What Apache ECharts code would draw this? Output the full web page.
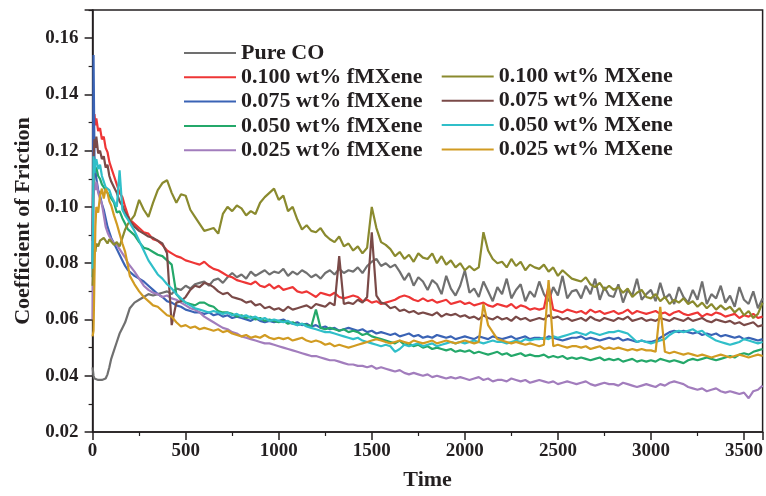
<!DOCTYPE html>
<html><head><meta charset="utf-8">
<script src="https://cdn.jsdelivr.net/npm/echarts@6/dist/echarts.min.js"></script>
<style>html,body{margin:0;padding:0;background:#fff}#c{width:766px;height:496px}</style>
</head><body><div id="c"></div>
<script>
// ---------- DATA ----------
const time = [0,5,10,15,20,30,40,50,60,70,80,90,100,115,130,145,160,175,190,
200,225,250,275,300,325,350,375,400,425,450,475,500,525,550,575,600,625,650,675,700,725,750,775,
800,825,850,875,900,925,950,975,1000,1025,1050,1075,1100,1125,1150,1175,1200,1225,1250,1275,1300,1325,1350,1375,
1400,1425,1450,1475,1500,1525,1550,1575,1600,1625,1650,1675,1700,1725,1750,1775,1800,1825,1850,1875,1900,1925,1950,1975,
2000,2025,2050,2075,2100,2125,2150,2175,2200,2225,2250,2275,2300,2325,2350,2375,2400,2425,2450,2475,2500,2525,2550,2575,
2600,2625,2650,2675,2700,2725,2750,2775,2800,2825,2850,2875,2900,2925,2950,2975,3000,3025,3050,3075,3100,3125,3150,3175,
3200,3225,3250,3275,3300,3325,3350,3375,3400,3425,3450,3475,3500,3525,3550,3575,3600];

const pureCO = [.043,.040,.039,.0385,.039,.0385,.039,.0385,.038,.039,.0405,.043,.046,.049,.052,.055,.057,.059,.062,
.064,.066,.067,.068,.069,.0685,.069,.0695,
.070,.069,.071,.0705,.072,.071,.0725,.073,
.0735,.072,.074,.0745,.073,.075,.0765,.075,
.076,.0745,.077,.0755,.0765,.0775,.076,.077,
.0765,.078,.0755,.077,.076,.0775,.0765,.075,
.076,.0745,.0765,.0775,.076,.078,.0765,.0775,
.077,.0785,.0765,.079,.0805,.0815,.079,.080,
.0785,.0795,.077,.074,.0765,.072,.075,.0735,
.0705,.074,.0725,.069,.0755,.071,.0685,.072,
.0775,.0695,.071,.068,.0735,.070,.0665,.0715,
.069,.0745,.0675,.0705,.0725,.0665,.070,.068,
.0735,.069,.0665,.0715,.0685,.0755,.0675,.070,
.0705,.0675,.072,.069,.0745,.067,.0715,.0685,
.068,.0725,.066,.0705,.0685,.0745,.067,.069,
.0705,.0665,.073,.0675,.069,.0655,.0715,.068,
.066,.0705,.067,.0735,.0655,.069,.0675,.072,
.066,.0685,.0645,.0715,.067,.0655,.070,.064,
.0675];

const f100 = [.088,.126,.133,.129,.1315,.127,.128,.124,.125,.121,.1195,.116,.114,.111,.108,.105,.1035,.100,.097,
.0955,.094,.0925,.091,.0905,.0885,.088,.0865,
.0845,.0835,.0825,.082,.081,.0805,.080,.0795,
.0805,.079,.078,.0775,.0765,.0755,.075,.074,
.0735,.073,.0725,.0735,.072,.0715,.0725,.071,
.072,.0705,.071,.0715,.070,.0695,.070,.069,
.068,.0695,.069,.0685,.0695,.068,.0675,.068,
.0685,.068,.0665,.067,.066,.0665,.0655,.066,
.0665,.067,.068,.0685,.068,.067,.0665,.0675,
.0665,.067,.066,.0665,.067,.0655,.066,.0665,
.0655,.066,.065,.0655,.066,.065,.0645,.0655,
.065,.0645,.0655,.064,.065,.0645,.0635,.064,
.0635,.064,.072,.0635,.063,.0625,.0635,.063,
.0625,.063,.062,.0635,.0625,.063,.062,.0625,
.063,.062,.0625,.0635,.062,.063,.0625,.062,
.0625,.063,.062,.0625,.0615,.0625,.063,.062,
.0615,.062,.0625,.061,.062,.0615,.0625,.062,
.061,.0615,.062,.0605,.0615,.061,.062,.0605,
.061];

const f075 = [.080,.154,.118,.113,.110,.106,.104,.101,.099,.096,.093,.091,.089,.087,.085,.083,.081,.079,.0775,
.077,.0755,.0745,.0735,.072,.0705,.069,.068,
.0665,.066,.065,.0645,.0635,.063,.0625,.0625,
.062,.0625,.0615,.062,.061,.0615,.0605,.061,
.0605,.060,.0595,.0605,.0595,.059,.0595,.059,
.0595,.060,.059,.0585,.059,.058,.0585,.0575,
.058,.057,.0575,.0565,.057,.056,.0565,.057,
.0565,.056,.0565,.0555,.056,.055,.0555,.055,
.0545,.055,.054,.0545,.055,.054,.0545,.0535,
.054,.0535,.0545,.054,.0535,.054,.053,.0535,
.054,.0535,.053,.054,.0535,.053,.054,.0535,
.053,.0535,.054,.053,.0535,.054,.053,.0535,
.0535,.053,.054,.0535,.053,.0525,.053,.0535,
.0535,.054,.053,.0535,.053,.0525,.053,.0535,
.053,.0535,.0525,.053,.0525,.052,.0525,.052,
.052,.0525,.0535,.0545,.0555,.056,.0555,.056,
.0555,.055,.0555,.0545,.055,.0545,.055,.054,
.0545,.054,.0535,.054,.053,.0535,.053,.0525,
.053];

const f050 = [.075,.112,.116,.113,.114,.111,.110,.108,.107,.106,.105,.104,.103,.1015,.098,.0985,.096,.094,.092,
.092,.090,.0875,.0855,.085,.084,.083,.0825,
.081,.0795,.069,.067,.066,.0655,.065,.066,
.066,.065,.0645,.063,.0625,.0625,.062,.061,
.0615,.0605,.061,.060,.0605,.0595,.060,.0595,
.059,.0595,.0585,.059,.058,.0585,.058,.0575,
.0635,.057,.0565,.057,.0565,.056,.0565,.0555,
.056,.0555,.0545,.055,.054,.0535,.053,.0525,
.052,.0515,.0525,.051,.0515,.0505,.051,.050,
.0505,.0495,.050,.0495,.049,.0495,.0485,.049,
.0485,.049,.048,.0485,.048,.0475,.048,.0485,
.0475,.048,.047,.0475,.048,.047,.0475,.047,
.047,.0475,.0465,.047,.0465,.047,.046,.0465,
.046,.0465,.046,.0455,.046,.0465,.0455,.046,
.0455,.046,.045,.0455,.046,.045,.0455,.045,
.0455,.045,.046,.0455,.045,.0455,.045,.0445,
.0455,.046,.0455,.046,.0465,.046,.0455,.046,
.0465,.047,.0465,.0475,.048,.0475,.0485,.049,
.0495];

const f025 = [.060,.104,.108,.106,.109,.105,.103,.101,.097,.093,.091,.0895,.089,.087,.0865,.085,.0835,.082,.080,
.0795,.077,.0745,.072,.0705,.0695,.069,.068,
.0685,.0675,.067,.066,.065,.064,.0635,.0625,
.061,.060,.059,.058,.057,.0565,.0555,.055,
.054,.0535,.053,.0525,.052,.0515,.0515,.051,
.0505,.050,.0495,.049,.0485,.048,.0475,.047,
.047,.0465,.046,.0455,.0455,.045,.0445,.044,
.044,.0435,.0435,.043,.0435,.0425,.043,.0425,
.042,.0415,.042,.041,.0405,.041,.0405,.040,
.0405,.0395,.040,.0395,.039,.0395,.039,.0395,
.039,.0385,.039,.0395,.0385,.039,.038,.0385,
.0385,.038,.039,.0385,.038,.0385,.0375,.038,
.0385,.038,.0375,.038,.037,.0375,.038,.0375,
.037,.0375,.038,.037,.0365,.037,.0375,.037,
.037,.0365,.0375,.037,.0365,.036,.0365,.037,
.0365,.036,.037,.0365,.0375,.038,.0375,.037,
.036,.0355,.035,.0355,.0345,.035,.0355,.0345,
.034,.0345,.034,.0335,.034,.032,.0345,.035,
.0365];

const m100 = [.072,.080,.085,.084,.087,.086,.088,.0875,.089,.0885,.087,.0885,.088,.0865,.0875,.086,.089,.092,.094,
.0945,.097,.1025,.099,.0965,.1015,.106,.1085,
.1095,.105,.1015,.1045,.104,.099,.0965,.094,
.0915,.092,.0925,.0905,.0975,.100,.0985,.1005,
.0995,.097,.0985,.0975,.1015,.1035,.105,.1065,
.1025,.104,.0985,.100,.0955,.092,.0935,.0915,
.091,.0925,.090,.0885,.0875,.0895,.086,.087,
.0845,.086,.0835,.0855,.100,.0925,.0875,.0865,
.085,.0825,.084,.0815,.083,.0805,.0835,.082,
.0815,.0835,.080,.0825,.0795,.081,.0785,.080,
.0775,.079,.0775,.0785,.091,.0845,.0815,.080,
.0805,.0785,.0815,.079,.0805,.0775,.0795,.0785,
.078,.0795,.077,.0785,.0755,.0775,.076,.0745,
.074,.0735,.075,.0725,.0715,.073,.0705,.072,
.0705,.0715,.0695,.071,.068,.0695,.0705,.068,
.0675,.069,.0665,.068,.0655,.067,.066,.0675,
.0655,.0665,.0645,.066,.064,.0655,.0635,.065,
.0635,.0645,.0625,.064,.0615,.063,.0605,.062,
.066];

const m075 = [.090,.118,.124,.121,.125,.119,.120,.117,.118,.114,.115,.111,.109,.107,.105,.102,.1005,.098,.0965,
.095,.093,.0915,.0905,.0895,.089,.088,.087,
.0835,.058,.066,.0665,.068,.0705,.072,.0715,
.073,.0725,.0715,.070,.069,.0695,.068,.0675,
.067,.066,.0665,.065,.0655,.064,.0645,.0635,
.064,.063,.0645,.0635,.064,.0645,.065,.064,
.0655,.065,.0645,.066,.065,.0825,.0655,.066,
.0655,.067,.066,.068,.091,.0685,.066,.0655,
.064,.0645,.063,.0635,.0625,.063,.062,.0625,
.062,.0615,.0625,.061,.062,.0615,.062,.061,
.0615,.0605,.061,.060,.0615,.0605,.060,.061,
.060,.0605,.0595,.061,.060,.0605,.0595,.060,
.0605,.060,.0615,.0605,.061,.060,.0605,.0595,
.060,.0605,.0595,.061,.060,.0595,.0605,.060,
.0595,.0605,.060,.061,.0595,.060,.0605,.0595,
.060,.0595,.0605,.060,.0595,.0605,.060,.0595,
.0605,.0595,.060,.0605,.0595,.059,.060,.0595,
.059,.0595,.0585,.059,.058,.0585,.059,.0575,
.058];

const m050 = [.078,.118,.112,.116,.117,.1135,.115,.111,.109,.107,.1075,.106,.104,.102,.100,.113,.099,.097,.0955,
.095,.0915,.088,.0845,.081,.0785,.076,.0745,
.0725,.071,.069,.0675,.066,.065,.064,.0635,
.063,.0625,.063,.0625,.062,.0625,.0615,.062,
.061,.0615,.0605,.061,.060,.0605,.0595,.060,
.0595,.059,.0595,.0585,.058,.0585,.0575,.057,
.0565,.056,.0555,.0555,.055,.0545,.054,.0535,
.053,.0535,.0525,.052,.0515,.051,.0505,.051,
.0505,.0485,.0495,.051,.0505,.051,.0515,.0505,
.051,.0515,.0505,.051,.0515,.052,.0515,.052,
.0515,.052,.0525,.052,.0515,.052,.0525,.052,
.052,.0515,.052,.0525,.052,.053,.0525,.053,
.053,.0535,.053,.054,.0535,.054,.0545,.055,
.0555,.055,.0545,.0555,.055,.0545,.055,.0555,
.0555,.056,.0555,.055,.0535,.052,.0525,.052,
.0515,.052,.0525,.053,.0545,.0555,.056,.0555,
.056,.0565,.0555,.056,.0545,.0535,.0525,.052,
.0515,.051,.0515,.052,.053,.0525,.052,.0515,
.052];

const m025 = [.054,.056,.075,.093,.100,.098,.104,.1065,.103,.1065,.105,.102,.1005,.097,.094,.0905,.087,.084,.079,
.0755,.0725,.070,.068,.0665,.065,.0645,.063,
.0615,.061,.059,.0575,.058,.057,.0575,.0565,
.057,.0565,.056,.0565,.0555,.056,.055,.0545,
.054,.0545,.0535,.054,.0535,.0545,.0535,.053,
.0535,.053,.0535,.0525,.053,.0535,.0525,.052,
.0525,.052,.051,.0515,.0505,.051,.0505,.050,
.0505,.051,.0515,.052,.0525,.053,.0525,.052,
.0515,.052,.0525,.052,.0515,.0525,.052,.0515,
.052,.0525,.0515,.052,.0525,.052,.0515,.052,
.0525,.052,.0515,.052,.0655,.058,.0555,.053,
.0525,.052,.0515,.052,.0515,.051,.0515,.051,
.0505,.051,.074,.0505,.051,.0505,.050,.0505,
.0505,.050,.0505,.0495,.050,.0505,.0495,.050,
.0495,.050,.0495,.049,.0495,.049,.0495,.049,
.049,.0485,.0645,.0485,.048,.0485,.048,.0475,
.048,.0475,.047,.0475,.047,.0465,.047,.0475,
.047,.0465,.047,.0475,.047,.0465,.047,.0475,
.047];

const seriesNames = ['Pure CO','0.100 wt% fMXene','0.075 wt% fMXene','0.050 wt% fMXene','0.025 wt% fMXene',
  '0.100 wt% MXene','0.075 wt% MXene','0.050 wt% MXene','0.025 wt% MXene'];
const seriesValues = [pureCO,f100,f075,f050,f025,m100,m075,m050,m025];
const seriesColors = ['#707070','#ee3636','#3a63b5','#24a86a','#a27dbd','#8a8a2e','#7a4a48','#30bfc9','#d19b22'];
const xTickValues = [0,500,1000,1500,2000,2500,3000,3500];
const yTickValues = [0.02,0.04,0.06,0.08,0.10,0.12,0.14,0.16];

// ---------- CHART ----------
const FONT = "'Liberation Serif','Times New Roman',serif";
const INK = '#231f20';
const chart = echarts.init(document.getElementById('c'), null, {renderer:'canvas'});

const series = seriesNames.map((n,i)=>({
  name:n, type:'line', symbol:'none', showSymbol:false, animation:false,
  lineStyle:{width:2.2, color:seriesColors[i]}, itemStyle:{color:seriesColors[i]},
  data: time.map((t,j)=>[t, seriesValues[i][j]])
}));

function makeLegend(names, left, top){
  return {
    show:true, orient:'vertical', left:left, top:top, padding:0,
    icon:'rect', itemWidth:52, itemHeight:2, itemGap:2.3,
    textStyle:{fontFamily:FONT, fontWeight:'bold', fontSize:22, color:INK, lineHeight:20},
    selectedMode:false,
    data:names
  };
}

chart.setOption({
  backgroundColor:'#fff',
  animation:false,
  grid:{left:92.6, right:3.3, top:10, bottom:62.7, show:true, borderColor:INK, borderWidth:1.5, backgroundColor:'transparent'},
  legend:[ makeLegend(seriesNames.slice(0,5), 184, 42), makeLegend(seriesNames.slice(5), 441.7, 65.5) ],
  xAxis:{
    type:'value', min:xTickValues[0], max:3600, interval:500,
    axisLine:{show:true, lineStyle:{color:INK, width:1.5}},
    axisTick:{show:true, inside:false, length:8, lineStyle:{color:INK, width:1.5}},
    minorTick:{show:true, splitNumber:2, length:4, lineStyle:{color:INK, width:1.2}},
    axisLabel:{showMaxLabel:false, margin:10, fontFamily:FONT, fontWeight:'bold', fontSize:19, color:INK,
      formatter:v=>String(v)},
    splitLine:{show:false},
    name:'Time', nameLocation:'middle', nameGap:37,
    nameTextStyle:{fontFamily:FONT, fontWeight:'bold', fontSize:22, color:INK}
  },
  yAxis:{
    type:'value', min:yTickValues[0], max:0.17, interval:0.02,
    axisLine:{show:true, lineStyle:{color:INK, width:1.5}},
    axisTick:{show:true, inside:false, length:8, lineStyle:{color:INK, width:1.5}},
    minorTick:{show:true, splitNumber:2, length:4, lineStyle:{color:INK, width:1.2}},
    axisLabel:{showMaxLabel:false, margin:14, fontFamily:FONT, fontWeight:'bold', fontSize:19, color:INK,
      formatter:v=>v.toFixed(2)},
    splitLine:{show:false},
    name:'Coefficient of Friction', nameLocation:'middle', nameGap:58, nameRotate:90,
    nameTextStyle:{fontFamily:FONT, fontWeight:'bold', fontSize:22, color:INK}
  },
  series:series
});
</script></body></html>
